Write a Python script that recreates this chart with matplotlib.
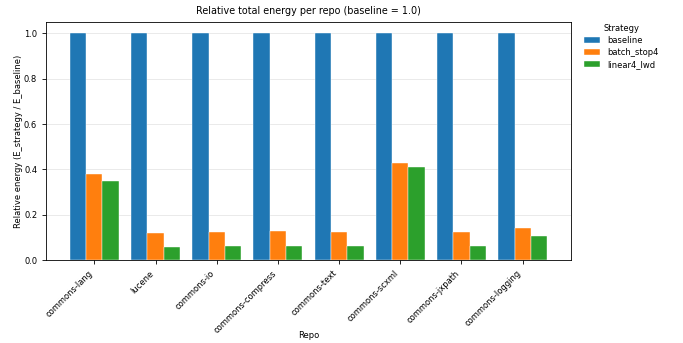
import matplotlib
matplotlib.use("Agg")
import matplotlib.pyplot as plt
import numpy as np

repos = ["commons-lang", "lucene", "commons-io", "commons-compress", "commons-text",
         "commons-scxml", "commons-jxpath", "commons-logging"]
baseline = [1.0, 1.0, 1.0, 1.0, 1.0, 1.0, 1.0, 1.0]
batch_stop4 = [0.378, 0.120, 0.123, 0.126, 0.125, 0.428, 0.125, 0.141]
linear4_lwd = [0.348, 0.059, 0.062, 0.062, 0.062, 0.412, 0.061, 0.106]
series = {"baseline": baseline, "batch_stop4": batch_stop4, "linear4_lwd": linear4_lwd}
colors = ["#1f77b4", "#ff7f0e", "#2ca02c"]

plt.rcParams["font.size"] = 6.0
fig = plt.figure(figsize=(6.83, 3.43), dpi=100)
ax = fig.add_axes([46/683, 1-260/343, (571-46)/683, (260-22)/343])

x = np.arange(len(repos))
w = 0.8 / 3
for i, (name, vals) in enumerate(series.items()):
    ax.bar(x + (i - 1) * w, vals, w, label=name, color=colors[i],
           edgecolor="white", linewidth=0.3, zorder=3)

ax.set_xticks(x)
ax.set_xticklabels(repos, rotation=45, ha="right")
ax.set_ylabel("Relative energy (E_strategy / E_baseline)")
ax.set_xlabel("Repo")
ax.xaxis.set_label_coords(0.5, -0.30)
ax.yaxis.set_label_coords(-0.044, 0.5)
ax.set_title("Relative total energy per repo (baseline = 1.0)", fontsize=6.9)
ax.grid(axis="y", color="#e6e6e6", linewidth=0.6, zorder=0)
ax.set_axisbelow(True)
for s in ax.spines.values():
    s.set_linewidth(0.6)
ax.tick_params(width=0.6, length=2.8)
leg = ax.legend(title="Strategy", loc="upper left", bbox_to_anchor=(1.01, 1.022),
                frameon=False, fontsize=6.0, title_fontsize=6.0, labelspacing=0.35)

fig.savefig("out.png", dpi=100)
